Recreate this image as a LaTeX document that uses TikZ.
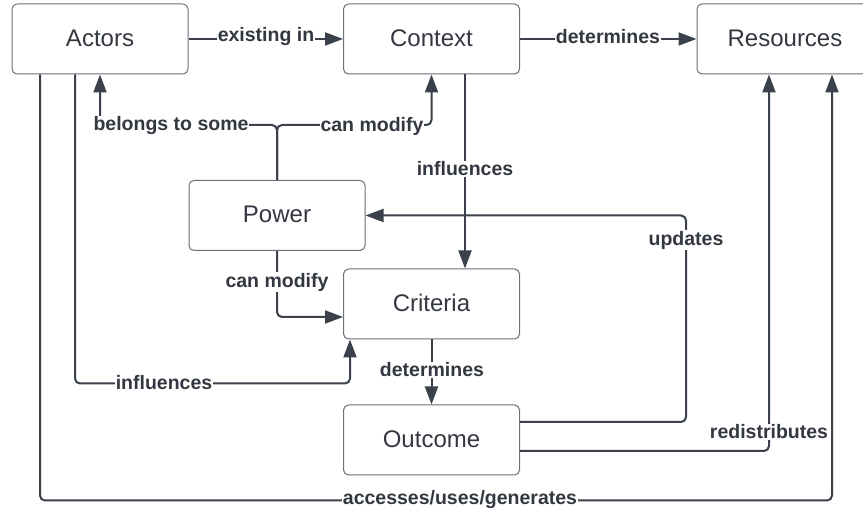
\documentclass[tikz,border=0pt]{standalone}
\usepackage{fontspec}
\setmainfont{Liberation Sans}
\usetikzlibrary{arrows.meta}
\definecolor{linec}{HTML}{3A414A}
\definecolor{boxc}{HTML}{6B7078}
\definecolor{txtc}{HTML}{333840}
\newcommand{\boxtxt}[1]{\raisebox{2.5pt}{#1}}
\tikzset{
  box/.style={draw=boxc, line width=1pt, rounded corners=5pt, minimum width=176pt, minimum height=70pt, inner sep=0pt, font=\fontsize{24}{27}\selectfont, text=txtc},
  conn/.style={draw=linec, line width=2pt, rounded corners=5pt, -{Triangle[length=18pt,width=13pt]}},
  lab/.style={fill=white, inner sep=1pt, font=\fontsize{19.5}{22}\selectfont\bfseries, text=txtc}
}
\begin{document}
\begin{tikzpicture}[x=1pt,y=-1pt]
\useasboundingbox (0,0) rectangle (863,510);
\clip (0,0) rectangle (863,510);
\fill[white] (0,0) rectangle (863,510);
\node[box] (actors) at (100,39) {\boxtxt{Actors}};
\node[box] (context) at (431.5,39) {\boxtxt{Context}};
\node[box] (resources) at (785,39) {\boxtxt{Resources}};
\node[box] (power) at (277,215.5) {\boxtxt{Power}};
\node[box] (criteria) at (431.5,304) {\boxtxt{Criteria}};
\node[box] (outcome) at (431.5,440) {\boxtxt{Outcome}};

\draw[conn] (actors.east) -- (context.west);
\draw[conn] (context.east) -- (resources.west);
\draw[conn] (power.north) -- ++(0,-55) -| (actors.south);
\draw[conn] (power.north) -- ++(0,-55) -| (context.south);
\draw[conn] ([xshift=33.5pt]context.south) -- ([xshift=33.5pt]criteria.north);
\draw[conn] (power.south) |- ([yshift=-13pt]criteria.west);
\draw[conn] ([xshift=-25pt]actors.south) -- ++(0,309) -| ([xshift=-81.5pt]criteria.south);
\draw[conn] (criteria.south) -- (outcome.north);
\draw[conn] ([yshift=18pt]outcome.east) -- ++(166,0) |- (power.east);
\draw[conn] ([yshift=-11pt]outcome.east) -| ([xshift=-16pt]resources.south);
\draw[conn] ([xshift=-60pt]actors.south) -- ++(0,426) -| ([xshift=47pt]resources.south);

\node[lab] (l1) at (266,37) {existing in};
\node[lab] (l2) at (608,37) {determines};
\node[lab] (l3) at (171,126) {belongs to some};
\node[lab] (l4) at (372,126) {can modify};
\node[lab] (l5) at (465,169) {influences};
\node[lab] (l6) at (277,282) {can modify};
\node[lab] (l7) at (164,383) {influences};
\node[lab] (l8) at (432,370) {determines};
\node[lab] (l9) at (686,240) {updates};
\node[lab] (l10) at (769,432) {redistributes};
\node[lab] (l11) at (460,500) {accesses/uses/generates};
\end{tikzpicture}
\end{document}
